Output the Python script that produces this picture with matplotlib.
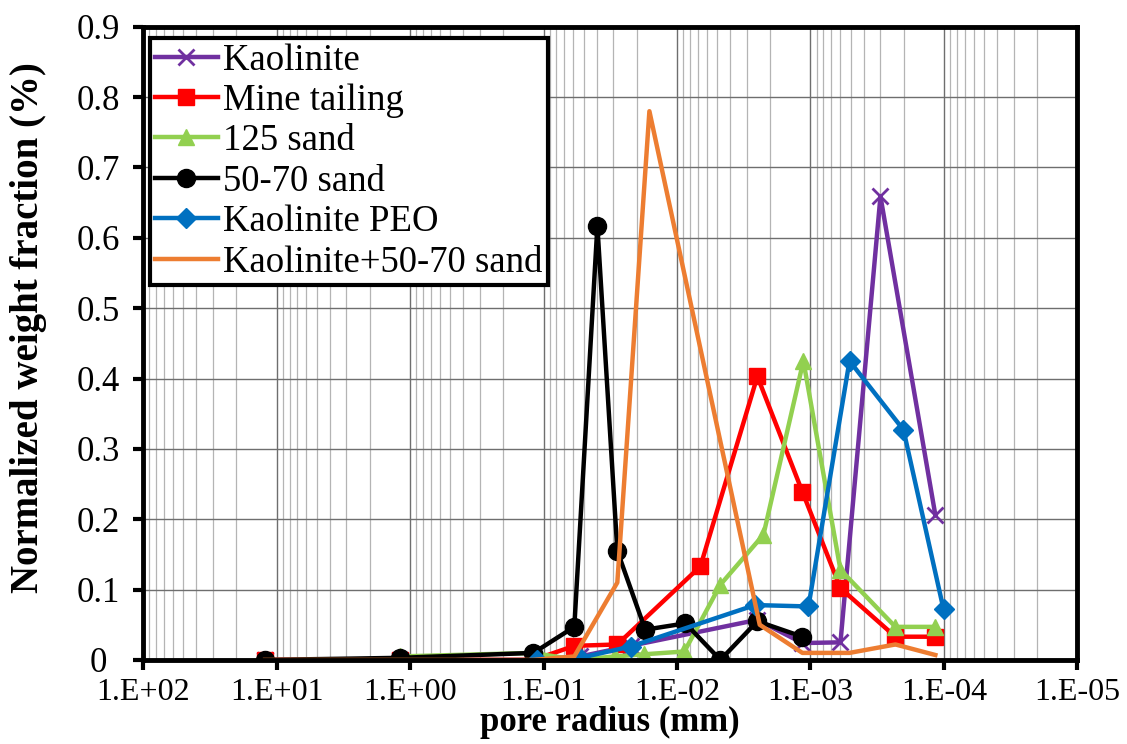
import numpy as np
import matplotlib.pyplot as plt
from matplotlib.ticker import FuncFormatter, LogLocator, MultipleLocator

plt.rcParams['font.family'] = ['Liberation Serif', 'DejaVu Serif']

# pore radius (mm) and normalized weight fraction for each material
kao_r = [12.2, 1.18, 0.119, 0.053, 0.0223, 0.0025, 0.00115, 0.000596, 0.000299, 0.000116]
kao_w = [0.0, 0.0, 0.0, 0.005, 0.02, 0.057, 0.024, 0.025, 0.659, 0.206]

mine_r = [12.2, 1.18, 0.119, 0.0588, 0.028, 0.00668, 0.0025, 0.00115, 0.000596, 0.000231, 0.000116]
mine_w = [0.0, 0.0, 0.0, 0.02, 0.022, 0.133, 0.403, 0.239, 0.102, 0.033, 0.033]

sand125_r = [1.18, 0.119, 0.057, 0.029, 0.0177, 0.0088, 0.00473, 0.00225, 0.00113, 0.000596, 0.000231, 0.000116]
sand125_w = [0.005, 0.01, 0.0, 0.005, 0.008, 0.012, 0.107, 0.178, 0.425, 0.128, 0.047, 0.047]

sand5070_r = [12.2, 1.18, 0.119, 0.0588, 0.0395, 0.028, 0.0173, 0.00865, 0.00473, 0.0025, 0.00115]
sand5070_w = [0.0, 0.003, 0.01, 0.047, 0.617, 0.155, 0.043, 0.052, 0.0, 0.055, 0.033]

peo_r = [0.112, 0.053, 0.0223, 0.0026, 0.001035, 0.00051, 0.000201, 0.0001007]
peo_w = [0.0, 0.003, 0.019, 0.078, 0.076, 0.425, 0.327, 0.072]

mix_r = [12.2, 1.18, 0.119, 0.0588, 0.028, 0.0161, 0.0024, 0.00115, 0.00051, 0.000231, 0.000116]
mix_w = [0.0, 0.0, 0.0, 0.005, 0.11, 0.78, 0.05, 0.01, 0.01, 0.022, 0.007]

fig = plt.figure(figsize=(11.27, 7.44), dpi=100)
ax = fig.add_axes([0.127, 0.113, 0.829, 0.851])

lw = 3.2
ax.plot(kao_r, kao_w, color='#7030A0', lw=lw, marker='x', ms=11, mew=2, label='Kaolinite')
ax.plot(mine_r, mine_w, color='#FF0000', lw=lw, marker='s', ms=12, label='Mine tailing')
ax.plot(sand125_r, sand125_w, color='#92D050', lw=lw, marker='^', ms=12, label='125 sand')
ax.plot(sand5070_r, sand5070_w, color='black', lw=lw, marker='o', ms=13, label='50-70 sand')
ax.plot(peo_r, peo_w, color='#0070C0', lw=lw, marker='D', ms=10, label='Kaolinite PEO')
ax.plot(mix_r, mix_w, color='#ED7D31', lw=lw, label='Kaolinite+50-70 sand')

ax.set_xscale('log')
ax.set_xlim(1e2, 1e-5)
ax.set_ylim(0, 0.9)
ax.yaxis.set_major_locator(MultipleLocator(0.1))
ax.xaxis.set_major_locator(LogLocator(base=10, numticks=20))
ax.xaxis.set_minor_locator(LogLocator(base=10, subs=np.arange(2, 10), numticks=20))

ax.xaxis.set_major_formatter(FuncFormatter(lambda v, p: '1.E%+03d' % int(round(np.log10(v)))))
ax.yaxis.set_major_formatter(FuncFormatter(lambda v, p: '0' if abs(v) < 1e-9 else '%.1f' % v))

ax.grid(which='major', axis='both', color='#6e6e6e', lw=1.0)
ax.grid(which='minor', axis='x', color='#b4b4b4', lw=0.9)
ax.set_axisbelow(True)

for s in ax.spines.values():
    s.set_linewidth(3.5)
ax.tick_params(which='major', direction='out', length=7, width=3, labelsize=25)
ax.tick_params(axis='x', pad=6, labelsize=23)
ax.tick_params(axis='y', pad=25)
ax.tick_params(which='minor', length=0)
# y labels sit centred under each other
for lab in ax.get_yticklabels():
    lab.set_horizontalalignment('center')

ax.set_xlabel('pore radius (mm)', fontsize=25, fontweight='bold', labelpad=-1)
ax.set_ylabel('Normalized weight fraction (%)', fontsize=28, fontweight='bold')
ax.yaxis.set_label_coords(-0.103, 0.525)

leg = ax.legend(loc='upper left', bbox_to_anchor=(0.007, 0.983), fontsize=26.5,
                frameon=True, fancybox=False, framealpha=1, edgecolor='black',
                handlelength=1.7, handletextpad=0.15, labelspacing=0.16,
                borderpad=0.15, borderaxespad=0, numpoints=1)
leg.get_frame().set_linewidth(3)

fig.savefig('out.png', dpi=100)
